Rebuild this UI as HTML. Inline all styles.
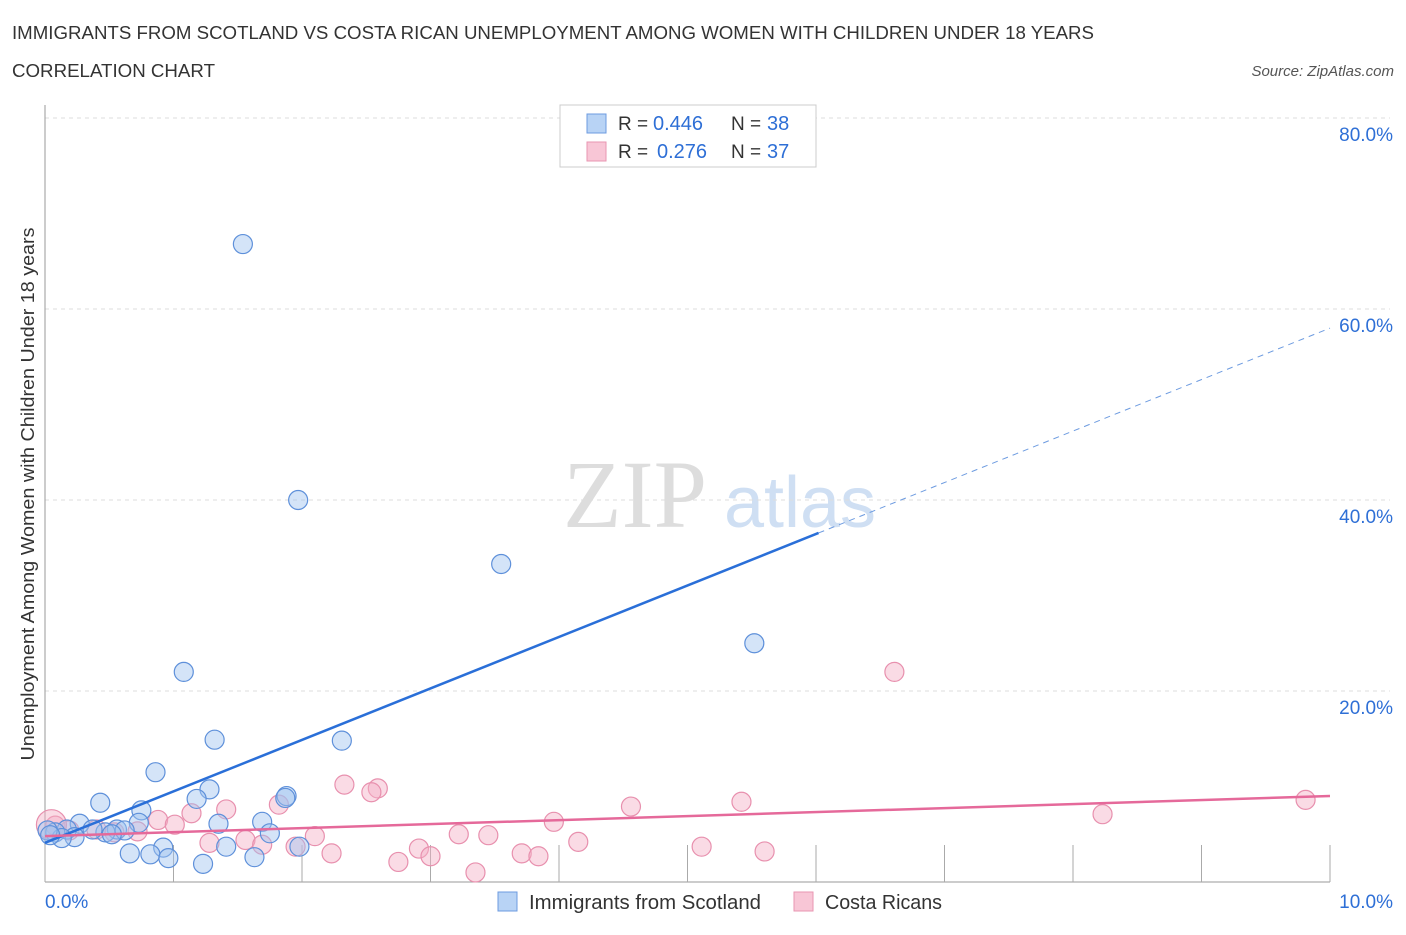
<!DOCTYPE html>
<html><head><meta charset="utf-8"><style>
body{margin:0;background:#fff;font-family:"Liberation Sans",sans-serif;}
</style></head><body>
<svg id="chart" width="1406" height="930" xmlns="http://www.w3.org/2000/svg" style="font-family:'Liberation Sans',sans-serif">
<text x="12" y="39" font-size="18" fill="#333" textLength="1082" lengthAdjust="spacingAndGlyphs">IMMIGRANTS FROM SCOTLAND VS COSTA RICAN UNEMPLOYMENT AMONG WOMEN WITH CHILDREN UNDER 18 YEARS</text>
<text x="12" y="77" font-size="18" fill="#333" textLength="203" lengthAdjust="spacingAndGlyphs">CORRELATION CHART</text>
<text x="1394" y="76" font-size="15" fill="#555" text-anchor="end" font-style="italic">Source: ZipAtlas.com</text>
<g>
<text x="635" y="527" font-size="96" fill="#ddd" text-anchor="middle" font-family="Liberation Serif">ZIP</text>
<text x="800" y="527" font-size="72" fill="#cfdff3" text-anchor="middle">atlas</text>
</g>
<g id="grid"></g>
<g id="axes"></g>
<g id="marks"></g>
<g>
<rect x="560" y="105" width="256" height="62" fill="#fff" stroke="#ccc"/>
<rect x="587" y="114" width="19" height="19" fill="#b8d3f5" stroke="#6d9be0"/>
<text x="618" y="130" font-size="19" fill="#333">R =</text>
<text x="653" y="130" font-size="20" fill="#2e6fd6">0.446</text>
<text x="731" y="130" font-size="19" fill="#333">N =</text>
<text x="767" y="130" font-size="20" fill="#2e6fd6">38</text>
<rect x="587" y="142" width="19" height="19" fill="#f8c6d6" stroke="#e896b2"/>
<text x="618" y="158" font-size="19" fill="#333">R =</text>
<text x="657" y="158" font-size="20" fill="#2e6fd6">0.276</text>
<text x="731" y="158" font-size="19" fill="#333">N =</text>
<text x="767" y="158" font-size="20" fill="#2e6fd6">37</text>
</g>
<g>
<rect x="498" y="892" width="19" height="19" fill="#b8d3f5" stroke="#6d9be0"/>
<text x="529" y="909" font-size="20" fill="#333" textLength="232" lengthAdjust="spacingAndGlyphs">Immigrants from Scotland</text>
<rect x="794" y="892" width="19" height="19" fill="#f8c6d6" stroke="#e896b2"/>
<text x="825" y="909" font-size="20" fill="#333" textLength="117" lengthAdjust="spacingAndGlyphs">Costa Ricans</text>
</g>
<text transform="translate(34,494) rotate(-90)" font-size="18" fill="#333" text-anchor="middle" textLength="533" lengthAdjust="spacingAndGlyphs">Unemployment Among Women with Children Under 18 years</text>
</svg>
<script>
const yTicks=[20,40,60,80];
const yTickLabels=["20.0%","40.0%","60.0%","80.0%"];
const xTicks=[0,1,2,3,4,5,6,7,8,9,10];
const blueX=[1.54,1.97,3.55,5.52,1.08,1.32,2.31,0.86,1.28,1.88,1.87,1.18,0.43,0.75,1.69,0.73,1.35,0.27,1.75,0.56,0.47,0.62,0.37,0.17,0.08,0.23,0.13,0.02,1.41,1.98,0.92,0.66,0.82,0.96,1.63,1.23,0.52,0.04];
const blueY=[66.8,40.0,33.3,25.0,22.0,14.9,14.8,11.5,9.7,9.0,8.8,8.7,8.3,7.5,6.3,6.2,6.1,6.1,5.1,5.5,5.2,5.4,5.5,5.5,5.2,4.7,4.6,5.4,3.7,3.7,3.6,3.0,2.9,2.5,2.6,1.9,5.0,4.9];
const pinkX=[6.61,9.81,8.23,5.42,4.56,3.96,2.59,2.54,2.33,1.82,1.41,1.14,0.88,1.01,0.72,0.40,0.08,0.19,2.10,4.15,5.11,5.60,3.45,3.22,2.91,3.00,2.75,2.23,3.35,3.71,3.84,1.95,1.28,1.56,1.69,0.54,0.05];
const pinkY=[22.0,8.6,7.1,8.4,7.9,6.3,9.8,9.4,10.2,8.1,7.6,7.2,6.5,6.0,5.3,5.5,5.9,5.4,4.8,4.2,3.7,3.2,4.9,5.0,3.5,2.7,2.1,3.0,1.0,3.0,2.7,3.7,4.1,4.4,3.9,5.2,6.0];
const blueTrend=[4.1,58.0];
const blueSolidEnd=6.02;
const pinkTrend=[4.8,9.0];
const NS="http://www.w3.org/2000/svg";
const X0=45,X1=1330,Y0=882,Y80=118;
const sx=v=>X0+(X1-X0)*v/10;
const sy=v=>Y0-(Y0-Y80)*v/80;
function mk(tag,attrs,parent){const e=document.createElementNS(NS,tag);for(const k in attrs)e.setAttribute(k,attrs[k]);document.getElementById(parent).appendChild(e);return e;}
yTicks.forEach((t,i)=>{
 const g=mk('line',{x1:X0,x2:X1+60,y1:sy(t),y2:sy(t),stroke:'#ddd','stroke-dasharray':'4,4'},'grid');
 
 
 const l=mk('text',{x:1393,y:sy(t)+23,'font-size':19,fill:'#2e6fd6','text-anchor':'end'},'axes');
 l.textContent=yTickLabels[i];
 
 
});
const ya=mk('line',{x1:X0,x2:X0,y1:105,y2:Y0,stroke:'#999'},'axes');


const xa=mk('line',{x1:X0,x2:X1,y1:Y0,y2:Y0,stroke:'#999'},'axes');


xTicks.forEach(t=>{
 const k=mk('line',{x1:sx(t),x2:sx(t),y1:Y0-37,y2:Y0,stroke:'#aaa'},'axes');
 
 
});
const xl0=mk('text',{x:45,y:908,'font-size':19,fill:'#2e6fd6'},'axes');xl0.textContent='0.0%';


const xl1=mk('text',{x:1393,y:908,'font-size':19,fill:'#2e6fd6','text-anchor':'end'},'axes');xl1.textContent='10.0%';


pinkX.forEach((x,i)=>{
 const c=mk('circle',{cx:sx(x),cy:sy(pinkY[i]),r:i===pinkX.length-1?15:9.5,fill:'rgba(245,175,198,0.45)',stroke:'#e890ae','stroke-width':1.2},'marks');
 
 
});
blueX.forEach((x,i)=>{
 const c=mk('circle',{cx:sx(x),cy:sy(blueY[i]),r:9.5,fill:'rgba(160,196,240,0.45)',stroke:'#5e90da','stroke-width':1.2},'marks');
 
 
});
const bv=x=>blueTrend[0]+(blueTrend[1]-blueTrend[0])*x/10;
const b1=mk('line',{x1:sx(0),y1:sy(bv(0)),x2:sx(blueSolidEnd),y2:sy(bv(blueSolidEnd)),stroke:'#2a6fd8','stroke-width':2.5},'marks');


const b2=mk('line',{x1:sx(blueSolidEnd),y1:sy(bv(blueSolidEnd)),x2:sx(10),y2:sy(bv(10)),stroke:'#6d9be0','stroke-width':1,'stroke-dasharray':'6,5'},'marks');


const p1=mk('line',{x1:sx(0),y1:sy(pinkTrend[0]),x2:sx(10),y2:sy(pinkTrend[1]),stroke:'#e5699a','stroke-width':2.5},'marks');


</script>
</body></html>
